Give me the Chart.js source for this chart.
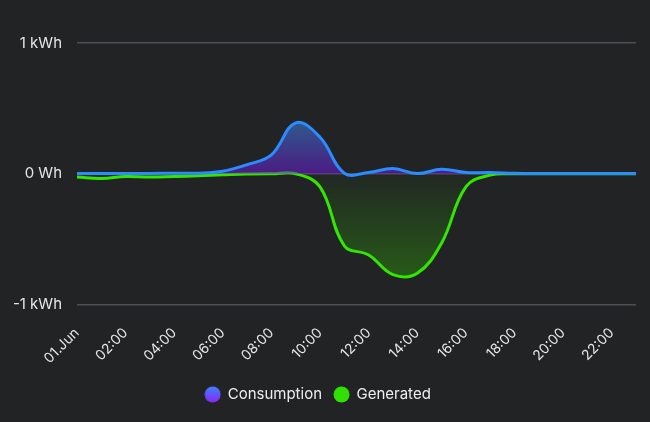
<!DOCTYPE html>
<html>
<head>
<meta charset="utf-8">
<script src="https://cdn.jsdelivr.net/npm/chart.js@4.4.1/dist/chart.umd.min.js"></script>
<style>
html, body { margin: 0; padding: 0; background: #222325; }
#wrap { width: 650px; height: 422px; }
</style>
</head>
<body>
<div id="wrap"><canvas id="energyChart"></canvas></div>
<script>
// hourly points, 00:00 .. 23:00 (Wh)
const hours = ['01.Jun','01:00','02:00','03:00','04:00','05:00','06:00','07:00','08:00','09:00','10:00','11:00',
  '12:00','13:00','14:00','15:00','16:00','17:00','18:00','19:00','20:00','21:00','22:00','23:00'];
const consumption = [3, 3, 3, 3, 4, 5, 20, 70, 145, 390, 280, 5, 10, 40, 2, 35, 10, 10, 4, 2, 2, 2, 2, 2];
const generated = [-25, -35, -20, -25, -20, -15, -8, -2, 0, 0, -100, -550, -620, -770, -760, -530, -100, -10, 0, 0, 0, 0, 0, 0];
const yTicks = [-1000, 0, 1000];

const blue = '#2a8cff';
const green = '#33e600';

function circleIcon(top, bottom){
  let c = document.createElement('canvas');
  c.width = 17; c.height = 17;
  let g = c.getContext('2d');
  let grad = g.createLinearGradient(0, 0, 0, 17);
  grad.addColorStop(0, top);
  grad.addColorStop(1, bottom);
  g.fillStyle = grad;
  g.beginPath();
  g.arc(8.5, 8.5, 8, 0, Math.PI * 2);
  g.fill();
  return c;
}
const icons = [circleIcon('#3a86ff', '#8f22f5'), circleIcon('#30e000', '#30e000')];

function consFill(context){
  const chart = context.chart;
  if(!chart.chartArea) return 'rgba(90,40,160,0.5)';
  const y = chart.scales.y;
  const g = chart.ctx.createLinearGradient(0, y.getPixelForValue(400), 0, y.getPixelForValue(0));
  g.addColorStop(0, 'rgba(58,145,243,0.5)');
  g.addColorStop(1, 'rgba(116,21,227,0.5)');
  return g;
}

function genFill(context){
  const chart = context.chart;
  if(!chart.chartArea) return 'rgba(50,200,0,0.2)';
  const y = chart.scales.y;
  const g = chart.ctx.createLinearGradient(0, y.getPixelForValue(0), 0, y.getPixelForValue(-800));
  g.addColorStop(0, 'rgba(50,200,0,0.03)');
  g.addColorStop(1, 'rgba(50,200,0,0.34)');
  return g;
}

function whLabel(v){
  if(v === 0) return '0 Wh';
  if(Math.abs(v) >= 1000) return (v / 1000) + ' kWh';
  return v + ' Wh';
}

const ctx = document.getElementById('energyChart').getContext('2d');

const energyChart = new Chart(ctx, {
type: 'line',
data: {
labels: hours,
datasets: [{
label: 'Consumption',
data: consumption,
borderColor: blue,
backgroundColor: consFill,
borderWidth: 3,
fill: 'origin',
pointRadius: 0,
tension: 0.4
},{
label: 'Generated',
data: generated,
borderColor: green,
backgroundColor: genFill,
borderWidth: 3,
fill: 'origin',
pointRadius: 0,
tension: 0.4
}]
},
options: {
responsive: true,
maintainAspectRatio: false,
animation: false,
layout: { padding: { left: 0, right: 14, top: 43, bottom: 10 } },
scales: {
x: {
grid: { display: false, drawTicks: false },
border: { display: false },
afterFit: function(axis){ axis.paddingLeft = 0; axis.paddingRight = 0; axis.height -= 12; },
ticks: {
color: '#e6e6e6',
font: { family: 'Inter', size: 14 },
maxRotation: 45,
minRotation: 45,
autoSkip: false,
padding: 20,
callback: function(val, i){ return i % 2 === 0 ? hours[i] : null; }
}
},
y: {
min: -1000,
max: 1000,
afterBuildTicks: function(axis){ axis.ticks = yTicks.map(v => ({ value: v })); },
afterFit: function(axis){ axis.width = 77; },
grid: { color: '#4d4e52', lineWidth: 1.5, drawTicks: false },
border: { display: false },
ticks: {
color: '#e6e6e6',
font: { family: 'Inter', size: 15 },
padding: 15,
callback: whLabel
}
}
},
plugins: {
legend: {
position: 'bottom',
labels: {
color: '#eeeeee',
font: { family: 'Inter', size: 15 },
usePointStyle: true,
boxWidth: 17,
boxHeight: 17,
padding: 12,
generateLabels: function(chart){
return chart.data.datasets.map((ds, i) => ({
text: ds.label,
fontColor: '#eeeeee',
pointStyle: icons[i],
datasetIndex: i,
hidden: false,
lineWidth: 0
}));
}
}
},
tooltip: { enabled: false }
}
}
});
</script>
</body>
</html>
